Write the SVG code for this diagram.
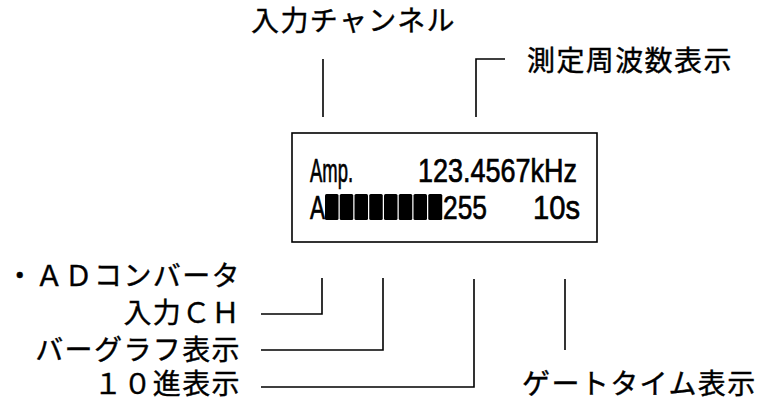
<svg xmlns="http://www.w3.org/2000/svg" width="774" height="403" viewBox="0 0 774 403">
<style>
.lbl{font-family:"Noto Sans CJK JP","Noto Sans CJK SC",sans-serif;font-size:28px;letter-spacing:1.4px;fill:#000;stroke:#000;stroke-width:0.4}
.lcd{font-family:"Liberation Sans Narrow","Liberation Sans",sans-serif;font-size:34px;fill:#000;stroke:#000;stroke-width:0.7}
.ln{stroke:#000;stroke-width:1.6;fill:none}
.blk{fill:#000}
</style>
<rect width="774" height="403" fill="#fff"/>
<g id="display">
<rect x="292" y="133" width="305" height="109" class="ln"/>
<text class="lcd" x="310" y="182" textLength="43" lengthAdjust="spacingAndGlyphs">Amp.</text>
<text class="lcd" x="418" y="182" textLength="159" lengthAdjust="spacingAndGlyphs">123.4567kHz</text>
<text class="lcd" x="310" y="219" textLength="15" lengthAdjust="spacingAndGlyphs">A</text>
<g id="bargraph">
<rect class="blk" x="325" y="194" width="13.5" height="26" rx="1.5"/>
<rect class="blk" x="339.75" y="194" width="13.5" height="26" rx="1.5"/>
<rect class="blk" x="354.5" y="194" width="13.5" height="26" rx="1.5"/>
<rect class="blk" x="369.25" y="194" width="13.5" height="26" rx="1.5"/>
<rect class="blk" x="384" y="194" width="13.5" height="26" rx="1.5"/>
<rect class="blk" x="398.75" y="194" width="13.5" height="26" rx="1.5"/>
<rect class="blk" x="413.5" y="194" width="13.5" height="26" rx="1.5"/>
<rect class="blk" x="428.25" y="194" width="14" height="26" rx="1.5"/>
</g>
<text class="lcd" x="443" y="219" textLength="44" lengthAdjust="spacingAndGlyphs">255</text>
<text class="lcd" x="533" y="219" textLength="47" lengthAdjust="spacingAndGlyphs">10s</text>
</g>
<g id="label-input-channel"><text class="lbl" x="251" y="31">入力チャンネル</text></g>
<g id="label-freq"><text class="lbl" x="527" y="71">測定周波数表示</text></g>
<g id="label-ad"><text class="lbl" x="241" y="286" text-anchor="end">・ＡＤコンバータ</text></g>
<g id="label-inch"><text class="lbl" x="241" y="323" text-anchor="end">入力ＣＨ</text></g>
<g id="label-bar"><text class="lbl" x="241" y="360" text-anchor="end">バーグラフ表示</text></g>
<g id="label-dec"><text class="lbl" x="241" y="394" text-anchor="end">１０進表示</text></g>
<g id="label-gate"><text class="lbl" x="522" y="394">ゲートタイム表示</text></g>
<g id="connectors">
<path class="ln" d="M323 59V117"/>
<path class="ln" d="M505 59H476V117"/>
<path class="ln" d="M322 278V314H261"/>
<path class="ln" d="M383 278V350H261"/>
<path class="ln" d="M474 279V387H261"/>
<path class="ln" d="M565 279V350"/>
</g>
</svg>
